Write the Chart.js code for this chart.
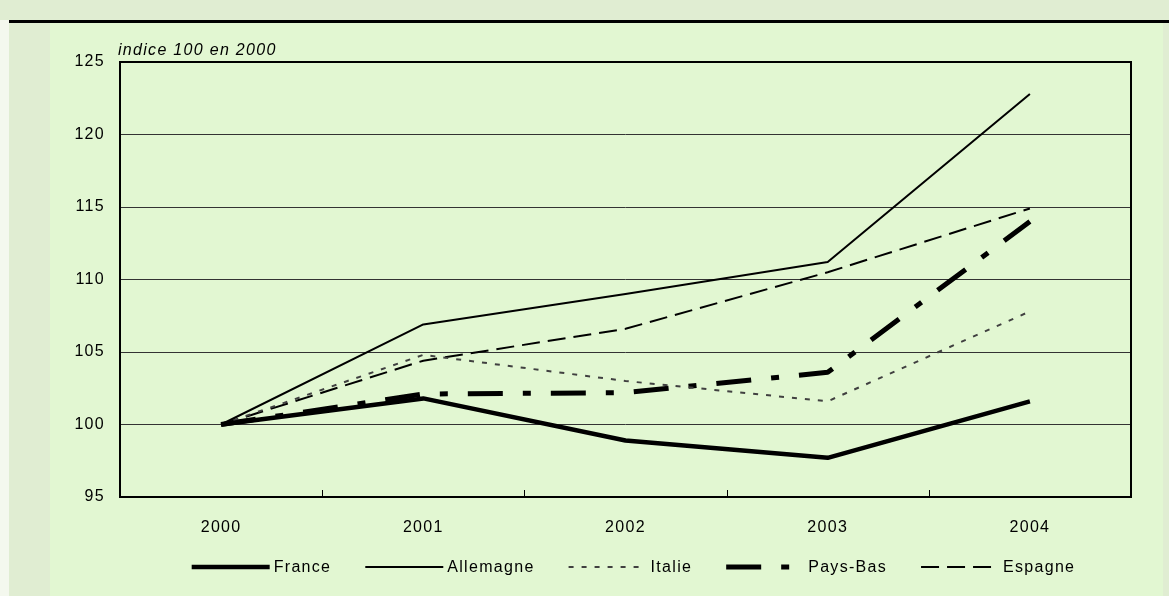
<!DOCTYPE html>
<html>
<head>
<meta charset="utf-8">
<script src="https://cdn.jsdelivr.net/npm/chart.js@4.4.0/dist/chart.umd.min.js"></script>
<style>
  html, body { margin: 0; padding: 0; overflow: hidden; background: #f4f8ee; }
  #frame { position: relative; width: 1169px; height: 596px; overflow: hidden; }
  #band { position: absolute; left: 0; top: 0; width: 1169px; height: 20px; background: #e0edd2; }
  #rule { position: absolute; left: 9px; top: 20px; width: 1160px; height: 3px; background: #000; }
  #side { position: absolute; left: 9px; top: 23px; width: 41px; height: 573px; background: #e0edd2; }
  #panel { position: absolute; left: 50px; top: 23px; width: 1113px; height: 573px; background: #e2f7d2; }
  #rside { position: absolute; left: 1163px; top: 23px; width: 6px; height: 573px; background: #e0edd2; }
  #chart { position: absolute; left: 0; top: 0; }
</style>
</head>
<body>
<div id="frame">
  <div id="band"></div>
  <div id="rule"></div>
  <div id="side"></div>
  <div id="panel"></div>
  <div id="rside"></div>
  <canvas id="chart" width="1169" height="596"></canvas>
</div>
<script>
const years = ["2000", "2001", "2002", "2003", "2004"];
const france = [100, 101.8, 98.9, 97.7, 101.6];
const allemagne = [100, 106.9, 109.0, 111.2, 122.8];
const italie = [100, 104.8, 103.0, 101.6, 107.8];
const paysBas = [100, 102.1, 102.2, 103.6, 114.0];
const espagne = [100, 104.4, 106.6, 110.5, 114.9];
const yTicks = [95, 100, 105, 110, 115, 120, 125];
const unitNote = "indice 100 en 2000";

const FONT = "Arial, 'Liberation Sans', sans-serif";
const SPACING = "1.3px";

// the original text is a bit wider than plain Arial
const spacingPlugin = {
  id: "spacingPlugin",
  beforeDraw(chart) { chart.ctx.letterSpacing = SPACING; }
};

// frame around the plot, small x ticks, unit note and legend
const framePlugin = {
  id: "framePlugin",
  afterDraw(chart) {
    const { ctx, chartArea: a, scales: { x } } = chart;
    ctx.save();
    ctx.letterSpacing = SPACING;
    ctx.strokeStyle = "#000";
    ctx.lineWidth = 2;
    ctx.strokeRect(a.left, a.top, a.right - a.left, a.bottom - a.top);
    ctx.lineWidth = 1;
    for (let i = 0; i < years.length - 1; i++) {
      const px = Math.round((x.getPixelForValue(i) + x.getPixelForValue(i + 1)) / 2) + 0.5;
      ctx.beginPath();
      ctx.moveTo(px, a.bottom);
      ctx.lineTo(px, a.bottom - 7);
      ctx.stroke();
    }
    ctx.fillStyle = "#000";
    ctx.font = "italic 16px " + FONT;
    ctx.textBaseline = "alphabetic";
    ctx.fillText(unitNote, a.left - 2, a.top - 7);

    // legend
    const sample = 78, gap = 4, between = 34;
    ctx.font = "16px " + FONT;
    const sets = chart.data.datasets;
    const widths = sets.map(d => sample + gap + ctx.measureText(d.label).width);
    const total = widths.reduce((s, w) => s + w, 0) + between * (sets.length - 1);
    let lx = (a.left + a.right) / 2 + 8 - total / 2;
    const ly = a.bottom + 70;
    ctx.textBaseline = "middle";
    sets.forEach((d, i) => {
      ctx.beginPath();
      ctx.setLineDash(d.borderDash || []);
      ctx.lineWidth = d.borderWidth;
      ctx.strokeStyle = d.borderColor;
      ctx.lineCap = "butt";
      ctx.moveTo(lx, ly);
      ctx.lineTo(lx + sample, ly);
      ctx.stroke();
      ctx.setLineDash([]);
      ctx.fillText(d.label, lx + sample + gap, ly + 1);
      lx += widths[i] + between;
    });
    ctx.restore();
  }
};

function line(label, data, width, dash, color) {
  return {
    label, data,
    borderColor: color || "#000",
    backgroundColor: color || "#000",
    borderWidth: width,
    borderDash: dash,
    borderJoinStyle: "round",
    pointRadius: 0,
    tension: 0,
    fill: false
  };
}

new Chart(document.getElementById("chart"), {
  type: "line",
  data: {
    labels: years,
    datasets: [
      line("France", france, 4.5, []),
      line("Allemagne", allemagne, 2, []),
      line("Italie", italie, 2, [5, 8], "#404040"),
      line("Pays-Bas", paysBas, 5, [35, 20, 8, 20]),
      line("Espagne", espagne, 2, [18, 8])
    ]
  },
  options: {
    responsive: false,
    animation: false,
    layout: { padding: { top: 62, left: 0, right: 38, bottom: 63 } },
    scales: {
      x: {
        offset: true,
        grid: { display: false, drawTicks: false },
        border: { display: false },
        ticks: { color: "#000", font: { size: 16, family: FONT }, padding: 21, maxRotation: 0 },
        afterFit(s) { s.height = 36; }
      },
      y: {
        min: 95, max: 125,
        afterBuildTicks(s) { s.ticks = yTicks.map(v => ({ value: v })); },
        grid: { color: "#333", lineWidth: 1, drawTicks: false },
        border: { display: false },
        ticks: { color: "#000", font: { size: 16, family: FONT }, padding: 15 },
        afterFit(s) { s.width = 120; }
      }
    },
    plugins: {
      legend: { display: false },
      tooltip: { enabled: false }
    }
  },
  plugins: [spacingPlugin, framePlugin]
});
</script>
</body>
</html>
